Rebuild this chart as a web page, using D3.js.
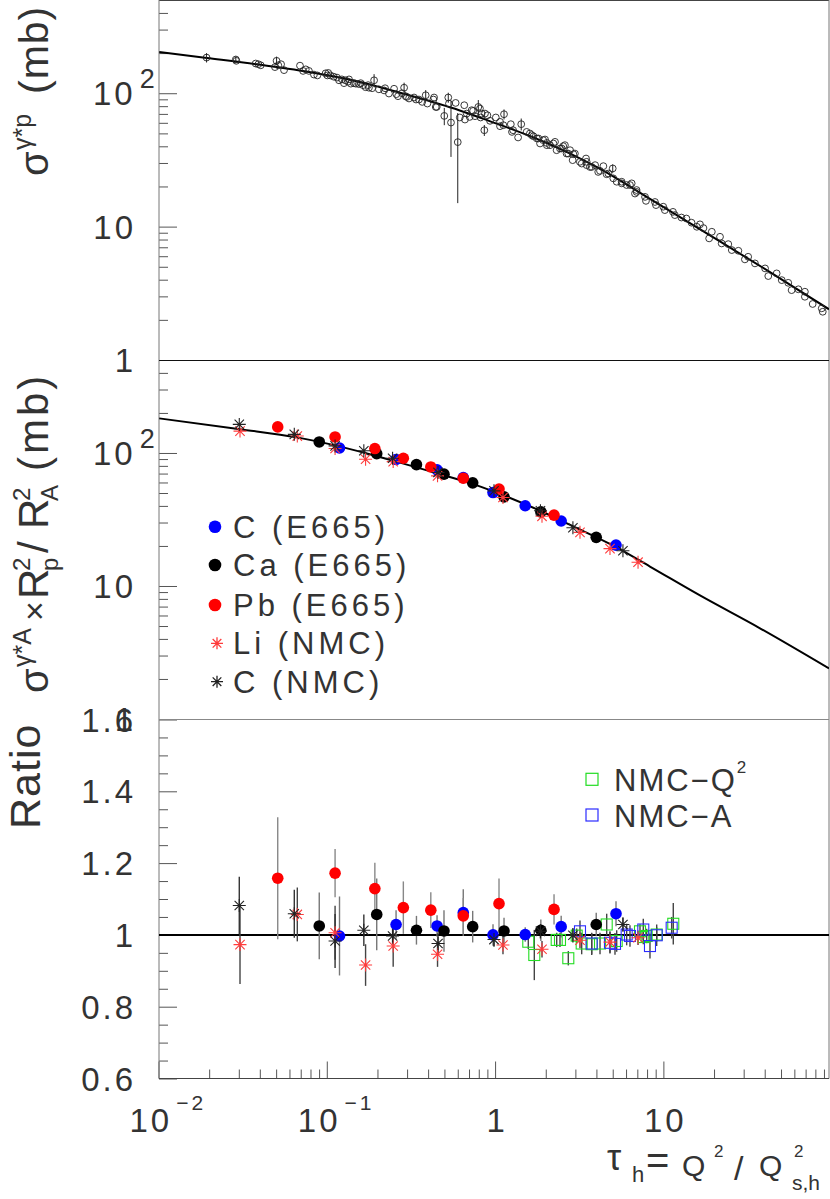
<!DOCTYPE html>
<html><head><meta charset="utf-8">
<script src="https://cdn.jsdelivr.net/npm/d3@7"></script>
<style>
body{margin:0;background:#fff}
svg{display:block}
text{font-family:"Liberation Sans",Arial,Helvetica,sans-serif;fill:#333}
</style>
</head><body>
<svg id="c" width="830" height="1199"></svg>
<script>
// ---------------- DATA ----------------
// Top panel: sigma(gamma* p) data points (tau_h, mb)
const tauP = [0.0193,0.0288,0.0290,0.0378,0.0392,0.0405,0.0503,0.0515,0.0535,0.0492,0.0557,0.0693,0.0723,0.0750,0.0783,0.0839,0.0879,0.0984,0.102,0.105,0.110,0.115,0.123,0.129,0.134,0.139,0.145,0.155,0.164,0.170,0.178,0.191,0.204,0.219,0.234,0.251,0.259,0.288,0.294,0.308,0.330,0.353,0.369,0.387,0.396,0.434,0.444,0.499,0.527,0.532,0.547,0.583,0.600,0.617,0.656,0.662,0.706,0.740,0.795,0.820,0.863,0.900,0.813,0.871,1.01,1.07,1.13,1.12,1.24,1.28,1.37,1.43,1.54,1.61,1.69,1.81,1.85,1.98,2.03,2.12,2.27,2.32,2.49,2.60,2.66,2.79,2.89,2.98,3.19,3.47,3.50,3.75,3.93,4.10,4.40,4.60,5.00,5.04,5.65,6.05,6.48,6.78,6.93,7.78,7.88,8.91,9.04,9.98,10.2,11.4,11.7,12.8,13.7,14.7,15.8,16.5,17.3,18.7,19.4,21.7,22.2,24.3,25.5,27.9,30.5,31.9,35.0,40.2,42.0,47.1,50.5,55.2,57.8,63.4,69.3,69.3,77.1,87.3,88.5,
  0.299,0.339,0.430,0.450,0.678,0.726,0.760,0.832,0.933,1.07,1.26,1.65,1.77,1.93,2.03,2.22,2.43,2.54,2.72,2.92,3.27,3.50,3.66,4.20,4.71,5.28,5.65,6.33,6.93,
  0.1007,0.1182,0.1265,0.1355,0.1486,0.159,0.176,0.186,0.222,0.265,0.280];
const sigmaP = [185,179,175,167,165,162,175,162,165,157,149,161,147,151,147,138,136,141,142,136,133,131,127,125,122,118,119,117,115,111,110,125,107,105,99.5,108,98.4,110,95.0,91.3,92.9,89.7,86.1,96.6,83.7,92.9,78.9,67.6,92.9,83.7,60.3,84.6,43.0,65.8,81.3,63.5,66.4,73.7,78.9,65.8,52.8,68.4,76.8,70.4,65.8,61.0,69.6,57.6,58.6,52.8,46.6,58.6,51.3,49.9,47.6,45.8,42.0,45.0,42.4,40.8,43.2,37.4,38.5,40.8,35.3,37.4,31.5,35.3,30.6,32.4,28.9,28.0,28.9,25.7,28.4,24.7,27.3,23.0,21.7,20.5,21.1,17.7,18.8,16.7,15.6,15.3,14.5,14.1,13.3,12.9,12.2,11.7,11.5,10.7,9.97,10.4,9.75,8.16,9.15,8.39,7.48,7.39,6.67,6.59,5.68,5.94,5.30,4.86,4.26,4.46,3.97,3.79,3.34,3.39,3.25,2.98,2.63,2.44,2.30,
  93.8,89.7,89.7,78.9,70.4,74.6,67.3,70.4,62.1,56.6,51.3,48.5,45.8,44.5,40.8,42.0,38.5,40.1,35.3,34.9,29.7,30.6,28.0,26.2,25.0,21.7,21.1,20.5,18.2,
  136,125,119,127,118,119,115,109,109,95.0,100];
// Top panel: points with visible error bars (tau_h, sigma, +-error)
const errTauP   = [0.0193,0.0288,0.0503,0.191,0.288,0.387,0.499,0.527,0.547,0.600,0.795,0.863,1.13,1.43,5.00];
const errSigmaP = [185,179,175,125,110,96.6,67.6,92.9,60.3,43.0,78.9,52.8,69.6,58.6,27.3];
const errP      = [15,10,13,14,10,9,10,8,27,28,10,5,6,6,2];
// Fit curves
const curveTauP   = [0.0101,0.0194,0.0395,0.0784,0.155,0.308,0.611,0.920,1.85,4.03,8.91,19.7,43.0,96.4];
const curveSigmaP = [204,184,164,144,122,96.6,74.6,62.1,44.5,27.9,15.3,8.34,4.56,2.40];
const curveTauA   = [0.0101,0.0305,0.0665,0.1089,0.173,0.272,0.471,0.742,1.18,1.85,3.07,5.04,8.32,16.5,37.5,96.4];
const curveSigmaA = [182,151,131,115,99.1,84.6,69.3,58.3,46.8,36.8,27.2,20.1,14.0,8.49,4.81,2.40];
// Nuclear data: tau_h, sigma x Rp^2/RA^2 (mb), ratio, ratio error
const cE665Tau    = [0.119,0.258,0.452,0.647,0.972,1.51,2.47,5.23];
const cE665Sigma  = [109,89.4,74.6,65.3,50.4,40.1,30.8,20.3];
const cE665Ratio  = [0.997,1.029,1.025,1.062,1.000,1.001,1.023,1.059];
const cE665Err    = [0.11,0.04,0.03,0.065,0.03,0.02,0.03,0.035];
const caE665Tau   = [0.0902,0.198,0.341,0.497,0.736,1.13,1.87,3.99];
const caE665Sigma = [121,98.8,81.7,69.3,59.6,46.8,36.1,23.2];
const caE665Ratio = [1.025,1.057,1.013,1.011,1.023,1.011,1.013,1.029];
const caE665Err   = [0.093,0.10,0.04,0.058,0.044,0.037,0.03,0.033];
const pbE665Tau   = [0.0511,0.112,0.193,0.285,0.415,0.647,1.055,2.24];
const pbE665Sigma = [157,132,108,91.3,78.5,64.6,53.5,34.1];
const pbE665Ratio = [1.158,1.172,1.129,1.076,1.069,1.053,1.087,1.071];
const pbE665Err   = [0.17,0.067,0.072,0.073,0.05,0.05,0.07,0.042];
const liNMCTau    = [0.0305,0.0668,0.112,0.170,0.248,0.455,1.114,1.90,3.195,4.816,7.07];
const liNMCSigma  = [146,134,108,89.7,86.1,67.3,46.3,33.4,25.3,19.1,15.1];
const liNMCRatio  = [0.973,1.057,1.006,0.916,0.969,0.946,0.972,0.960,0.985,0.980,0.992];
const liNMCErr    = [0.11,0.075,0.075,0.058,0.058,0.035,0.026,0.023,0.022,0.03,0.02];
const cNMCTau     = [0.0302,0.0641,0.112,0.166,0.246,0.458,0.985,1.86,2.90,5.75];
const cNMCSigma   = [164,138,113,104,91.3,71.4,51.9,36.8,27.4,18.4];
const cNMCRatio   = [1.082,1.059,0.983,1.013,0.997,0.976,0.987,1.010,0.999,1.029];
const cNMCErr     = [0.08,0.067,0.075,0.044,0.022,0.03,0.02,0.02,0.02,0.02];
const nmcQ2Tau    = [1.575,1.710,2.323,2.430,2.723,3.054,3.270,3.750,4.202,4.604,5.279,7.261,7.596,7.957,9.125,11.45];
const nmcQ2Ratio  = [0.981,0.944,0.986,0.986,0.935,0.998,0.976,0.974,0.976,1.029,0.983,1.010,0.994,0.997,1.001,1.031];
const nmcQ2Err    = [0.02,0.07,0.02,0.02,0.02,0.02,0.03,0.03,0.03,0.03,0.03,0.02,0.02,0.02,0.02,0.058];
const nmcATau     = [3.195,3.750,4.816,5.158,6.051,6.331,7.596,8.324,9.125,11.20];
const nmcARatio   = [1.010,0.976,0.978,0.975,1.001,0.997,1.015,0.969,0.999,1.020];
const nmcAErr     = [0.03,0.03,0.03,0.03,0.03,0.03,0.03,0.035,0.03,0.03];
// Axis tick labels
const xTickValues = [0.01,0.1,1,10];
const xTickText   = ["10^\u22122","10^\u22121","1","10"];
const yLogTickValues = [1,10,100];
const yLogTickText   = ["1","10","10^2"];
const ratioTickValues = [0.6,0.8,1,1.2,1.4,1.6];
const ratioTickText   = ["0.6","0.8","1","1.2","1.4","1.6"];
const legendA = ["C (E665)","Ca (E665)","Pb (E665)","Li (NMC)","C (NMC)"];
const legendR = ["NMC\u2212Q","NMC\u2212A"];

// ---------------- SCALES ----------------
const svg = d3.select("#c");
const XL = 159, XR = 829;
const x  = d3.scaleLog().domain([0.01, 96.4]).range([158.5, 829]);
const yP = d3.scaleLog().domain([1, 500]).range([360, 0]);
const yA = d3.scaleLog().domain([1, 500]).range([719, 360]);
const yR = d3.scaleLinear().domain([0.6, 1.6]).range([1078.5, 719.5]);

const defs = svg.append("defs");
[["clipP",0,360],["clipA",360,719],["clipR",719,1079]].forEach(([id,a,b])=>{
  defs.append("clipPath").attr("id",id).append("rect").attr("x",XL).attr("y",a).attr("width",XR-XL).attr("height",b-a);
});

// ---------------- AXES ----------------
function logMinor(scale){ return scale.ticks().filter(v=>Math.abs(Math.log10(v)-Math.round(Math.log10(v)))>1e-6); }
function drawAxis(axis, tx, ty){
  const g = svg.append("g").attr("transform",`translate(${tx},${ty})`).call(axis);
  g.select(".domain").remove();
  g.selectAll("line").attr("stroke","#555").attr("stroke-width",1);
  g.selectAll("text").remove();
  return g;
}
drawAxis(d3.axisRight(yP).tickValues(yLogTickValues).tickSize(18), XL, 0);
drawAxis(d3.axisRight(yP).tickValues(logMinor(yP)).tickSize(9), XL, 0);
drawAxis(d3.axisRight(yA).tickValues(yLogTickValues).tickSize(18), XL, 0);
drawAxis(d3.axisRight(yA).tickValues(logMinor(yA)).tickSize(9), XL, 0);
drawAxis(d3.axisRight(yR).tickValues(ratioTickValues).tickSize(18), XL, 0);
drawAxis(d3.axisRight(yR).tickValues(d3.range(0.65,1.6,0.05).filter(v=>Math.abs(v*5-Math.round(v*5))>1e-6)).tickSize(9), XL, 0);
drawAxis(d3.axisTop(x).tickValues(xTickValues).tickSize(17), 0, 1078.5);
drawAxis(d3.axisTop(x).tickValues(logMinor(x)).tickSize(9), 0, 1078.5);

// frame
const fr = svg.append("g").attr("fill","none");
fr.append("line").attr("x1",XL).attr("x2",XR).attr("y1",0.5).attr("y2",0.5).attr("stroke","#444");
fr.append("line").attr("x1",XL).attr("x2",XL).attr("y1",0).attr("y2",1078.5).attr("stroke","#777");
fr.append("line").attr("x1",XR).attr("x2",XR).attr("y1",0).attr("y2",1078.5).attr("stroke","#777");
fr.append("line").attr("x1",XL).attr("x2",XR).attr("y1",360.5).attr("y2",360.5).attr("stroke","#111");
fr.append("line").attr("x1",XL).attr("x2",XR).attr("y1",719.5).attr("y2",719.5).attr("stroke","#888");
fr.append("line").attr("x1",XL).attr("x2",XR).attr("y1",1078.5).attr("y2",1078.5).attr("stroke","#444");

// tick labels
const LS = 3;
function supLabel(sel, txt, fs, supFs, supDy){
  const parts = txt.split("^");
  sel.append("tspan").text(parts[0]).attr("font-size",fs);
  if(parts[1]) sel.append("tspan").text(parts[1]).attr("font-size",supFs).attr("dy",supDy).attr("dx",4);
}
function yLabels(scale, vals, texts){
  vals.forEach((v,i)=>{
    const t = texts[i];
    const yy = scale(v)+12;
    const el = svg.append("text").attr("y",yy).attr("letter-spacing",LS);
    if(t.includes("^")){ el.attr("x",93).attr("text-anchor","start"); supLabel(el,t,33,27,-17); }
    else { el.attr("x",136).attr("text-anchor","end").attr("font-size",33).text(t); }
  });
}
yLabels(yP, yLogTickValues, yLogTickText);
yLabels(yA, yLogTickValues, yLogTickText);
yLabels(yR, ratioTickValues, ratioTickText);
xTickValues.forEach((v,i)=>{
  const t = xTickText[i];
  const el = svg.append("text").attr("y",1132).attr("letter-spacing",LS);
  if(t.includes("^")){ el.attr("x",x(v)-29).attr("text-anchor","start"); supLabel(el,t,33,21,-22); }
  else { el.attr("x",x(v)+2).attr("text-anchor","middle").attr("font-size",33).text(t); }
});

// axis titles
function rotTitle(tx, ty, pieces){
  const g = svg.append("g").attr("transform",`translate(${tx},${ty}) rotate(-90)`);
  pieces.forEach(p=>{
    g.append("text").attr("x",p[1]).attr("y",p[2]).attr("font-size",p[3]).attr("letter-spacing",p[4]||0).text(p[0]);
  });
}
rotTitle(48,176,[["\u03c3",0,0,40],["\u03b3*p",26,-17,25],["(mb)",82,0,41,1]]);
rotTitle(48,693,[["\u03c3",0,0,40],["\u03b3*A",26,-17,25],["\u00d7",72,-2,34],["R",94,0,42],["p",122,10,24],["2",122,-18,24],["/",140,0,42],["R",164,0,42],["A",192,10,24],["2",192,-18,24],["(mb)",222,0,42,3]]);
rotTitle(40,829,[["Ratio",0,0,43,1]]);
// x title
const xt = svg.append("g");
[["\u03c4",607,1170,36],["h",632,1182,22],["=",646,1174,40],["Q",682,1176,30],["2",714,1157,17],["/",734,1180,34],["Q",759,1176,30],["2",794,1157,17],["s,h",792,1190,21]]
  .forEach(p=>xt.append("text").attr("x",p[1]).attr("y",p[2]).attr("font-size",p[3]).text(p[0]));

// ---------------- TOP PANEL ----------------
const gP = svg.append("g").attr("clip-path","url(#clipP)");
gP.append("path").datum(d3.zip(curveTauP,curveSigmaP))
  .attr("d", d3.line().x(d=>x(d[0])).y(d=>yP(d[1])).curve(d3.curveMonotoneX))
  .attr("fill","none").attr("stroke","#000").attr("stroke-width",2);
gP.selectAll(".eb").data(d3.zip(errTauP,errSigmaP,errP)).join("line")
  .attr("x1",d=>x(d[0])).attr("x2",d=>x(d[0]))
  .attr("y1",d=>yP(d[1]+d[2])).attr("y2",d=>yP(Math.max(d[1]-d[2],1.01)))
  .attr("stroke","#222").attr("stroke-width",1);
gP.selectAll(".pt").data(d3.zip(tauP,sigmaP)).join("circle")
  .attr("cx",d=>x(d[0])).attr("cy",d=>yP(d[1])).attr("r",3.4)
  .attr("fill","none").attr("stroke","#222").attr("stroke-width",0.9);

// ---------------- MIDDLE PANEL ----------------
function starPath(cx,cy,r){
  const k=r*0.72;
  return `M${cx-r},${cy}L${cx+r},${cy}M${cx},${cy-r}L${cx},${cy+r}M${cx-k},${cy-k}L${cx+k},${cy+k}M${cx-k},${cy+k}L${cx+k},${cy-k}`;
}
const gA = svg.append("g").attr("clip-path","url(#clipA)");
gA.append("path").datum(d3.zip(curveTauA,curveSigmaA))
  .attr("d", d3.line().x(d=>x(d[0])).y(d=>yA(d[1])).curve(d3.curveMonotoneX))
  .attr("fill","none").attr("stroke","#000").attr("stroke-width",2);
const circSeries = [
  {tau:cE665Tau, sig:cE665Sigma, rat:cE665Ratio, err:cE665Err, col:"#0000ff", eb:"#777"},
  {tau:caE665Tau, sig:caE665Sigma, rat:caE665Ratio, err:caE665Err, col:"#000000", eb:"#777"},
  {tau:pbE665Tau, sig:pbE665Sigma, rat:pbE665Ratio, err:pbE665Err, col:"#ff0000", eb:"#888"}
];
const starSeries = [
  {tau:liNMCTau, sig:liNMCSigma, rat:liNMCRatio, err:liNMCErr, col:"#ff3b3b", eb:"#444"},
  {tau:cNMCTau, sig:cNMCSigma, rat:cNMCRatio, err:cNMCErr, col:"#222222", eb:"#333"}
];
circSeries.forEach(s=>{
  gA.selectAll(null).data(d3.zip(s.tau,s.sig)).join("circle")
    .attr("cx",d=>x(d[0])).attr("cy",d=>yA(d[1])).attr("r",5.8).attr("fill",s.col);
});
starSeries.forEach(s=>{
  gA.selectAll(null).data(d3.zip(s.tau,s.sig)).join("path")
    .attr("d",d=>starPath(x(d[0]),yA(d[1]),6.5)).attr("stroke",s.col).attr("stroke-width",1.1).attr("fill","none");
});
// legend (middle)
const legY = [526.7,565,605,643.3,681.7];
const legCols = ["#0000ff","#000000","#ff0000","#ff3b3b","#222222"];
legendA.forEach((t,i)=>{
  if(i<3) svg.append("circle").attr("cx",215).attr("cy",legY[i]).attr("r",6.3).attr("fill",legCols[i]);
  else svg.append("path").attr("d",starPath(217,legY[i],6)).attr("stroke",legCols[i]).attr("stroke-width",1.3).attr("fill","none");
  svg.append("text").attr("x",233).attr("y",legY[i]+11).attr("font-size",31).attr("letter-spacing",4).text(t);
});

// ---------------- RATIO PANEL ----------------
const gR = svg.append("g").attr("clip-path","url(#clipR)");
gR.append("line").attr("x1",XL).attr("x2",XR).attr("y1",yR(1)).attr("y2",yR(1)).attr("stroke","#000").attr("stroke-width",2);
function errBars(tau,rat,err,col){
  gR.selectAll(null).data(d3.zip(tau,rat,err)).join("line")
    .attr("x1",d=>x(d[0])).attr("x2",d=>x(d[0]))
    .attr("y1",d=>yR(d[1]+d[2])).attr("y2",d=>yR(d[1]-d[2]))
    .attr("stroke",col).attr("stroke-width",1.4);
}
[...circSeries,...starSeries].forEach(s=>errBars(s.tau,s.rat,s.err,s.eb));
errBars(nmcQ2Tau,nmcQ2Ratio,nmcQ2Err,"#444");
errBars(nmcATau,nmcARatio,nmcAErr,"#444");
function squares(tau,rat,col){
  gR.selectAll(null).data(d3.zip(tau,rat)).join("rect")
    .attr("x",d=>x(d[0])-5.5).attr("y",d=>yR(d[1])-5.5).attr("width",11).attr("height",11)
    .attr("fill","none").attr("stroke",col).attr("stroke-width",1.1);
}
squares(nmcQ2Tau,nmcQ2Ratio,"#22dd22");
squares(nmcATau,nmcARatio,"#2b2bff");
circSeries.forEach(s=>{
  gR.selectAll(null).data(d3.zip(s.tau,s.rat)).join("circle")
    .attr("cx",d=>x(d[0])).attr("cy",d=>yR(d[1])).attr("r",5.8).attr("fill",s.col);
});
starSeries.forEach(s=>{
  gR.selectAll(null).data(d3.zip(s.tau,s.rat)).join("path")
    .attr("d",d=>starPath(x(d[0]),yR(d[1]),6.5)).attr("stroke",s.col).attr("stroke-width",1.1).attr("fill","none");
});
// legend (ratio)
const legRY = [779.3,815];
const legRCol = ["#22dd22","#2b2bff"];
legendR.forEach((t,i)=>{
  svg.append("rect").attr("x",586).attr("y",legRY[i]-6).attr("width",12).attr("height",12)
    .attr("fill","none").attr("stroke",legRCol[i]).attr("stroke-width",1.2);
  const el = svg.append("text").attr("x",614).attr("y",legRY[i]+12).attr("font-size",31).attr("letter-spacing",2);
  el.append("tspan").text(t);
  if(i===0) el.append("tspan").text("2").attr("font-size",17).attr("dy",-18).attr("dx",0);
});
</script>
</body></html>
